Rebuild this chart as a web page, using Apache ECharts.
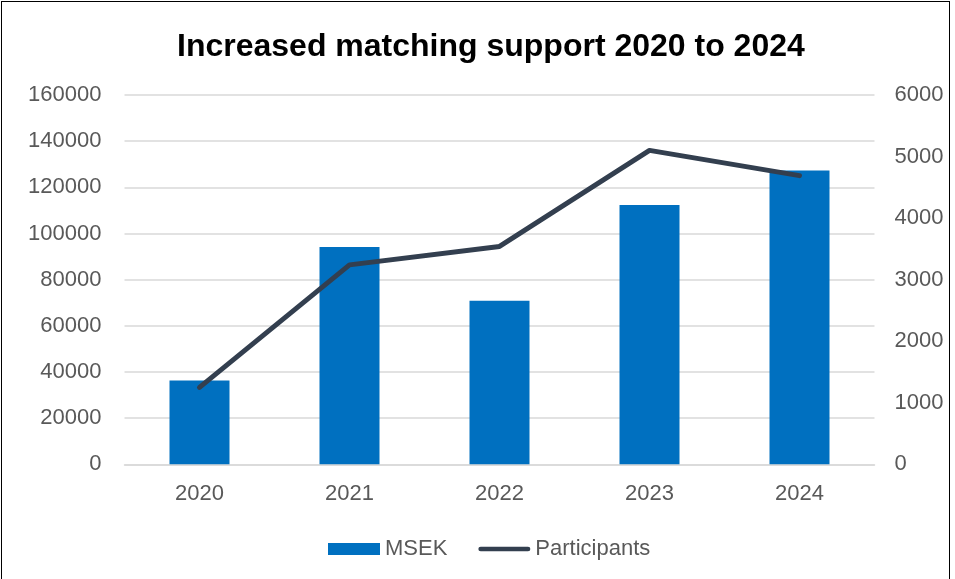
<!DOCTYPE html>
<html>
<head>
<meta charset="utf-8">
<script src="https://cdn.jsdelivr.net/npm/echarts@6/dist/echarts.min.js"></script>
<style>
  html, body { margin: 0; padding: 0; background: #fff; }
  #frame { position: absolute; left: 1px; top: 1px; width: 949px; height: 600px; border: 1.5px solid #000; border-bottom: none; box-sizing: border-box; }
  #chart { position: absolute; left: 0; top: 0; width: 955px; height: 579px; }
</style>
</head>
<body>
<div id="chart"></div>
<div id="frame"></div>
<script>
const years = ["2020", "2021", "2022", "2023", "2024"];
const msek = [36300, 94100, 70900, 112300, 127300];
const participants = [1250, 3240, 3540, 5100, 4690];

document.addEventListener("DOMContentLoaded", function () {
    const chart = echarts.init(document.querySelector("#chart"));
    const labelColor = "#595959";
    const font = "Liberation Sans, Arial, sans-serif";
    // plain numbers, no thousands separator
    const plain = value => String(value);

    const options = {
        animation: false,
        title: {
            text: "Increased matching support 2020 to 2024",
            left: 172,
            top: 26,
            textStyle: { fontFamily: font, fontSize: 32, fontWeight: "bold", color: "#000" }
        },
        legend: {
            left: 323,
            top: 533,
            itemWidth: 52,
            itemHeight: 12,
            itemGap: 31,
            textStyle: { fontFamily: font, fontSize: 22, color: labelColor },
            data: [
                { name: "MSEK", icon: "rect" },
                { name: "Participants", icon: "path://M2.5,0H53.5A2.5,2.5,0,0,1,53.5,5H2.5A2.5,2.5,0,0,1,2.5,0Z" }
            ]
        },
        grid: { left: 124.5, right: 80.5, top: 95, bottom: 114.7 },
        xAxis: {
            type: "category",
            data: years,
            axisLine: { lineStyle: { color: "#d9d9d9", width: 1.5 } },
            axisTick: { show: false },
            axisLabel: { fontFamily: font, fontSize: 22, color: labelColor, margin: 19 }
        },
        yAxis: [
            {
                type: "value",
                min: 0, max: 160000, interval: 20000,
                axisLine: { show: false },
                axisTick: { show: false },
                splitLine: { lineStyle: { color: "#d9d9d9", width: 1.5 } },
                axisLabel: { fontFamily: font, fontSize: 22, color: labelColor, margin: 23, formatter: plain }
            },
            {
                type: "value",
                min: 0, max: 6000, interval: 1000,
                axisLine: { show: false },
                axisTick: { show: false },
                splitLine: { show: false },
                axisLabel: { fontFamily: font, fontSize: 22, color: labelColor, margin: 20, formatter: plain }
            }
        ],
        series: [
            {
                name: "MSEK",
                type: "bar",
                data: msek,
                barWidth: "40%",
                itemStyle: { color: "#0070c0" }
            },
            {
                name: "Participants",
                type: "line",
                yAxisIndex: 1,
                data: participants,
                symbol: "none",
                lineStyle: { color: "#333f4f", width: 5, cap: "round", join: "round" },
                itemStyle: { color: "#333f4f" }
            }
        ]
    };
    chart.setOption(options);
});
</script>
</body>
</html>
